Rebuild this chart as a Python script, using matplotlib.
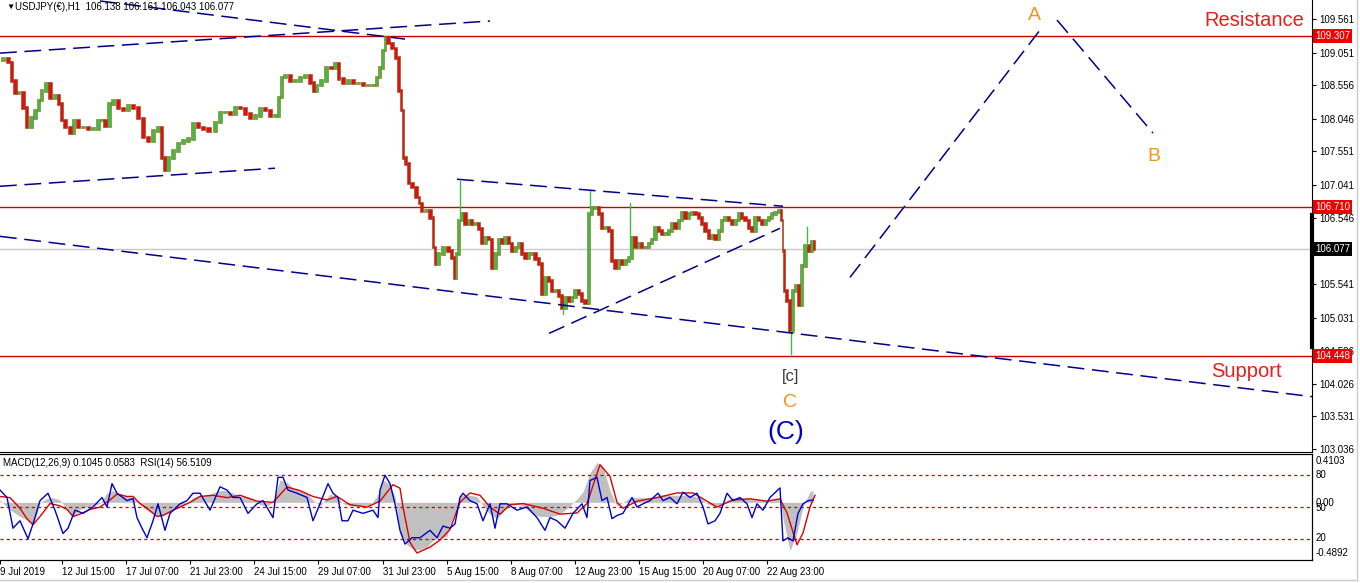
import numpy as np
import matplotlib.pyplot as plt
from matplotlib.transforms import blended_transform_factory
from matplotlib.lines import Line2D

plt.rcParams['font.family'] = ['Liberation Sans', 'DejaVu Sans']

# hourly bar index (1 bar = 1 hour of trading) and close prices
bars = [0, 5, 10, 13, 17, 20, 25, 28, 33, 37,
        40, 43, 48, 52, 57, 60, 63, 67, 72, 75,
        80, 85, 90, 95, 100, 103, 107, 111, 115, 120,
        125, 130, 135, 140, 145, 150, 155, 160, 163, 166,
        170, 175, 180, 185, 190, 195, 200, 205, 212, 217,
        222, 227, 232, 237, 242, 247, 252, 257, 262, 267,
        272, 277, 280, 283, 287, 292, 297, 302, 307, 312,
        315, 318, 323, 328, 333, 337, 340, 345, 350, 355,
        360, 365, 370, 375, 378, 381, 384, 386, 390, 394,
        397, 400, 402, 404, 407, 410, 414, 418, 420, 423,
        428, 432, 434, 436, 440, 445, 450, 453, 455, 457,
        460, 463, 467, 470, 473, 477, 480, 483, 487, 490,
        493, 497, 500, 503, 507, 510, 513, 517, 520, 523,
        527, 530, 533, 537, 540, 543, 547, 550, 553, 557,
        560, 563, 567, 570, 573, 577, 580, 583, 587, 590,
        593, 597, 600, 603, 607, 610, 613, 617, 620, 623,
        627, 630, 633, 637, 640, 643, 647, 650, 653, 657,
        660, 663, 667, 670, 673, 677, 680, 683, 687, 690,
        693, 697, 700, 703, 707, 710, 713, 717, 720, 723,
        727, 730, 733, 737, 740, 743, 747, 750, 753, 757,
        760, 763, 767, 770, 773, 777, 780, 782, 783, 785,
        788, 791, 794, 797, 800, 803, 807, 810, 813, 815]
closes = [108.94, 108.97, 108.91, 108.63, 108.44, 108.45, 108.22, 107.92, 108.07, 108.18,
          108.33, 108.48, 108.59, 108.36, 108.41, 108.28, 108.03, 107.92, 107.84, 108.03,
          107.92, 107.92, 107.90, 107.90, 108.03, 108.03, 107.95, 108.28, 108.33, 108.21,
          108.18, 108.25, 108.22, 108.06, 107.77, 107.72, 107.87, 107.92, 107.46, 107.27,
          107.46, 107.57, 107.68, 107.72, 107.75, 107.98, 107.92, 107.90, 107.87, 108.00,
          108.15, 108.15, 108.13, 108.22, 108.21, 108.13, 108.06, 108.10, 108.21, 108.18,
          108.10, 108.10, 108.38, 108.68, 108.71, 108.63, 108.63, 108.68, 108.71, 108.60,
          108.48, 108.56, 108.63, 108.83, 108.82, 108.89, 108.66, 108.59, 108.63, 108.59,
          108.59, 108.56, 108.56, 108.56, 108.68, 108.83, 109.09, 109.29, 109.20, 109.12,
          108.98, 108.48, 108.18, 107.46, 107.37, 107.07, 107.01, 106.86, 106.77, 106.66,
          106.66, 106.55, 106.10, 105.85, 106.00, 106.10, 106.05, 105.94, 105.64, 106.00,
          106.51, 106.61, 106.46, 106.51, 106.46, 106.46, 106.38, 106.16, 106.25, 106.22,
          105.79, 106.00, 106.22, 106.16, 106.25, 106.16, 106.05, 106.10, 106.16, 106.00,
          105.94, 106.00, 106.00, 105.93, 105.85, 105.40, 105.64, 105.59, 105.44, 105.44,
          105.37, 105.18, 105.34, 105.29, 105.34, 105.44, 105.40, 105.29, 105.25, 106.61,
          106.70, 106.70, 106.61, 106.40, 106.40, 106.35, 105.90, 105.79, 105.90, 105.85,
          105.90, 105.94, 106.25, 106.10, 106.16, 106.10, 106.10, 106.16, 106.22, 106.40,
          106.35, 106.31, 106.31, 106.35, 106.46, 106.40, 106.51, 106.63, 106.55, 106.61,
          106.63, 106.61, 106.55, 106.46, 106.35, 106.25, 106.28, 106.23, 106.35, 106.51,
          106.55, 106.51, 106.46, 106.51, 106.61, 106.55, 106.51, 106.40, 106.35, 106.55,
          106.51, 106.46, 106.51, 106.55, 106.61, 106.63, 106.66, 106.51, 106.05, 105.44,
          105.29, 104.83, 105.44, 105.52, 105.22, 105.82, 106.13, 106.05, 106.19, 106.08]

# long wicks (spikes)
wick_bar = [460, 563, 590, 630, 791, 807]
wick_tip = [107.11, 105.09, 106.96, 106.77, 104.48, 106.40]

# horizontal levels
resistance = 109.307
mid_level = 106.710
support = 104.448
last_price = 106.077

price_ticks = [109.561, 109.051, 108.556, 108.046, 107.551, 107.041, 106.546,
               105.541, 105.031, 104.526, 104.026, 103.531, 103.036]

# dashed trend lines: (bar, price) end points
trend_lines = [
    ((0, 109.044), (490, 109.531)),
    ((100, 109.835), (405, 109.257)),
    ((0, 107.023), (275, 107.297)),
    ((457, 107.13), (783, 106.72)),
    ((549, 104.79), (780, 106.385)),
    ((0, 106.263), (1312, 103.83)),
    ((850, 105.64), (1040, 109.394)),
    ((1057, 109.546), (1153, 107.83)),
]

# indicator window
rsi_x = [0, 7, 13, 20, 28, 33, 40, 48, 55, 63, 68, 75, 83, 93, 102, 107, 112, 117, 127, 133,
         137, 142, 147, 153, 158, 165, 170, 180, 187, 193, 200, 210, 220, 227, 233, 240, 248, 257, 263, 273,
         278, 283, 288, 297, 307, 313, 320, 328, 333, 338, 342, 348, 353, 363, 373, 378, 380, 385, 390, 395,
         400, 405, 412, 420, 430, 437, 443, 450, 455, 460, 463, 470, 477, 483, 490, 495, 500, 507,
         517, 527, 537, 545, 550, 557, 565, 573, 582, 587, 590, 597, 602, 607, 612, 617, 623, 632, 637, 643,
         650, 658, 663, 670, 677, 683, 690, 697, 703, 708, 715, 720, 727, 733, 740, 747, 752, 757, 763, 770,
         780, 783, 788, 793, 798, 803, 808, 813]
rsi_val = [66, 59, 30, 37, 20, 34, 56, 63, 47, 25, 30, 47, 44, 50, 59, 50, 72, 63, 56, 58,
           40, 30, 21, 37, 53, 28, 44, 53, 56, 63, 63, 47, 69, 66, 59, 59, 44, 53, 56, 40,
           78, 78, 66, 63, 59, 37, 53, 72, 63, 59, 37, 37, 47, 44, 47, 40, 66, 80, 72, 53,
           28, 15, 21, 21, 28, 21, 32, 30, 34, 59, 63, 56, 53, 37, 53, 30, 53, 53,
           47, 50, 40, 28, 40, 37, 30, 44, 53, 40, 75, 78, 56, 59, 39, 42, 44, 59, 50, 53,
           56, 63, 56, 59, 53, 64, 59, 63, 50, 34, 37, 44, 63, 56, 59, 53, 40, 53, 47, 59,
           68, 18, 21, 18, 44, 53, 56, 56.5]

macd_x = [0, 7, 13, 20, 27, 33, 37, 40, 47, 53, 60, 67, 73, 80, 87, 93, 100, 107, 113, 120,
          127, 133, 140, 147, 153, 160, 167, 173, 180, 187, 193, 200, 207, 213, 220, 227, 233, 240, 247, 253,
          260, 267, 273, 280, 287, 293, 300, 307, 313, 320, 327, 330, 337, 343, 350, 357, 363, 370, 377, 383,
          390, 395, 400, 407, 413, 420, 427, 433, 440, 447, 450, 457, 460, 470, 477, 483, 490, 497, 503, 510,
          520, 527, 533, 540, 550, 557, 563, 570, 577, 583, 590, 597, 603, 610, 617, 623, 630, 640, 650, 660,
          670, 680, 690, 700, 707, 713, 720, 727, 733, 740, 750, 760, 770, 780, 783, 790, 797, 803, 810, 813]
macd_val = [0.02, -0.04, -0.08, -0.12, -0.15, -0.19, -0.10, 0.0, 0.03, 0.04,
            0.02, -0.06, -0.12, -0.06, -0.04, -0.03, -0.01, 0.08, 0.10, 0.07,
            0.05, 0.04, -0.02, -0.07, -0.09, -0.12, -0.10, -0.05, -0.03, -0.01,
            0.04, 0.06, 0.06, 0.08, 0.10, 0.10, 0.08, 0.05, 0.05, 0.03,
            -0.02, -0.03, 0.0, 0.19, 0.17, 0.12, 0.10, 0.08, 0.02, -0.03,
            0.04, 0.07, 0.05, -0.01, -0.03, -0.03, -0.03, -0.02, 0.05, 0.19,
            0.15, 0.05, -0.26, -0.36, -0.40, -0.40, -0.38, -0.32, -0.30, -0.29,
            -0.18, -0.05, 0.06, 0.06, 0.05, -0.03, -0.10, -0.14, -0.08, -0.02,
            -0.02, -0.06, -0.10, -0.12, -0.12, -0.11, -0.08, -0.03, 0.03, 0.09,
            0.25, 0.34, 0.30, 0.10, -0.03, 0.0, 0.04, 0.04, 0.04, 0.06,
            0.06, 0.06, 0.06, 0.04, -0.01, -0.03, -0.02, 0.02, 0.04, 0.04,
            0.03, 0.02, 0.02, 0.03, -0.14, -0.41, -0.26, -0.04, 0.09, 0.10]

sig_x = [0, 10, 20, 27, 33, 40, 50, 60, 67, 73, 80, 90, 100, 110, 117, 127, 133, 140, 147, 157,
         163, 170, 180, 190, 200, 213, 227, 240, 257, 273, 287, 300, 313, 327, 337, 350, 367, 380, 393, 400,
         403, 410, 417, 430, 440, 450, 460, 470, 480, 490, 500, 510, 523, 543, 560, 577, 587, 600, 610, 617,
         623, 637, 657, 677, 693, 707, 717, 733, 750, 767, 780, 787, 797, 803, 810, 815]
sig_val = [0.05, 0.04, -0.05, -0.14, -0.19, -0.12, -0.01, -0.03, -0.06, -0.12,
           -0.10, -0.06, -0.04, 0.02, 0.07, 0.05, 0.05, -0.01, -0.05, -0.12,
           -0.11, -0.08, -0.04, 0.0, 0.05, 0.06, 0.04, 0.06, 0.01, 0.0,
           0.13, 0.10, 0.05, 0.02, 0.05, -0.02, -0.04, 0.01, 0.15, 0.12,
           -0.04, -0.34, -0.43, -0.38, -0.32, -0.23, 0.0, 0.08, 0.06, -0.04,
           -0.10, -0.02, -0.01, -0.05, -0.10, -0.09, -0.01, 0.32, 0.22, 0.0,
           -0.05, 0.01, 0.04, 0.08, 0.08, 0.01, -0.04, 0.02, 0.03, 0.01,
           0.03, -0.09, -0.36, -0.26, -0.04, 0.06]

date_ticks = [0, 62, 126, 190, 254, 318, 383, 447, 511, 575, 639, 703, 767]
date_labels = ['9 Jul 2019', '12 Jul 15:00', '17 Jul 07:00', '21 Jul 23:00', '24 Jul 15:00',
               '29 Jul 07:00', '31 Jul 23:00', '5 Aug 15:00', '8 Aug 07:00', '12 Aug 23:00',
               '15 Aug 15:00', '20 Aug 07:00', '22 Aug 23:00']

W, H = 1360, 583
fig = plt.figure(figsize=(13.6, 5.83), dpi=100)
ax = fig.add_axes([0, 1 - 452 / H, 1312 / W, 452 / H])
sub = fig.add_axes([0, 1 - 560 / H, 1312 / W, 106 / H])

RED = '#cc0000'
NAVY = '#00008b'
ORANGE = '#f39320'

# --- price window ---
ax.set_xlim(0, 1312)
ax.set_ylim(102.99, 109.85)

ax.axhline(last_price, color='#c8c8c8', lw=1, zorder=1)
for lvl in [resistance, mid_level, support]:
    ax.axhline(lvl, color=RED, lw=1, zorder=1)

bars = np.array(bars)
closes = np.array(closes)
opens = closes[:-1]
cl = closes[1:]
xs = (bars[:-1] + bars[1:]) / 2
wd = (bars[1:] - bars[:-1]) * 0.8
up = cl >= opens
bottom = np.minimum(opens, cl) - 0.02
height = np.abs(cl - opens) + 0.04
ax.bar(xs[up], height[up], bottom=bottom[up], width=wd[up], color='#44b944',
       edgecolor='#8a6a18', linewidth=0.4, zorder=2)
ax.bar(xs[~up], height[~up], bottom=bottom[~up], width=wd[~up], color='#dd1111',
       edgecolor='#8a4a10', linewidth=0.4, zorder=2)

for b, tip in zip(wick_bar, wick_tip):
    base = closes[list(bars).index(b)]
    ax.plot([b, b], [base, tip], color='#44b944', lw=1, zorder=2)

for (x0, y0), (x1, y1) in trend_lines:
    ax.plot([x0, x1], [y0, y1], color=NAVY, lw=1.1, dashes=(11, 5), zorder=3)

ax.spines['left'].set_visible(False)
ax.spines['top'].set_visible(False)
ax.spines['right'].set_color('black')
ax.spines['bottom'].set_color('black')
ax.set_xticks([])
ax.yaxis.tick_right()
ax.set_yticks(price_ticks)
ax.set_yticklabels(['%.3f' % t for t in price_ticks])
ax.tick_params(axis='y', labelsize=7, length=3, pad=2, colors='black')

# thick bar on price scale
ax.plot([1312, 1312], [106.58, 104.58], color='black', lw=3, clip_on=False, zorder=5)

tr = blended_transform_factory(ax.transAxes, ax.transData)
for val, fc in [(resistance, '#ee0000'), (mid_level, '#ee0000'), (support, '#ee0000'), (last_price, 'black')]:
    ax.text(1.0025, val, '%.3f' % val, transform=tr, ha='left', va='center', fontsize=7,
            color='white', clip_on=False, zorder=6,
            bbox=dict(boxstyle='square,pad=0.2', fc=fc, ec='none'))

# wave labels
ax.text(1034, 109.61, 'A', color=ORANGE, fontsize=14, ha='center', va='center')
ax.text(1154, 107.48, 'B', color=ORANGE, fontsize=14, ha='center', va='center')
ax.text(791, 104.135, '[c]', color='#3a3a3a', fontsize=12, ha='center', va='center')
ax.text(790, 103.74, 'C', color=ORANGE, fontsize=14, ha='center', va='center')
ax.text(786, 103.30, '(C)', color='#0000cc', fontsize=19, ha='center', va='center')
ax.text(1254, 109.546, 'Resistance', color='#e3201b', fontsize=14.5, ha='center', va='center')
ax.text(1246, 104.21, 'Support', color='#e3201b', fontsize=14.5, ha='center', va='center')

fig.text(6 / W, 1 - 7 / H, '\u25bc', fontsize=6, va='center', ha='left')
fig.text(15 / W, 1 - 7 / H, 'USDJPY(\u20ac),H1  106.138 106.161 106.043 106.077',
         fontsize=7, va='center', ha='left')

# --- indicator window ---
sub.set_xlim(0, 1312)
sub.set_ylim(-0.4892, 0.4103)
sub.fill_between(macd_x, 0, macd_val, color='#c0c0c0', lw=0, zorder=1)
sub.plot(sig_x, sig_val, color='#dd0000', lw=1, zorder=3)

rsi_ax = sub.twinx()
rsi_ax.set_ylim(0, 100)
for lv in [80, 50, 20]:
    rsi_ax.axhline(lv, color='#cc0000', lw=0.9, dashes=(2.5, 2.5), zorder=1)
rsi_ax.plot(rsi_x, rsi_val, color='#0000cc', lw=1, zorder=4)
rsi_ax.set_yticks([])

for a in [sub, rsi_ax]:
    a.spines['left'].set_visible(False)
    a.spines['top'].set_color('black')
    a.spines['bottom'].set_color('black')
sub.set_yticks([])
sub.set_xticks(date_ticks)
sub.set_xticklabels(date_labels, ha='left')
sub.tick_params(axis='x', labelsize=7, length=3, pad=2)

sub_tr = blended_transform_factory(sub.transAxes, fig.transFigure)
for txt, ypx in [('0.4103', 461), ('80', 475), ('0.00', 503), ('50', 508), ('20', 538), ('-0.4892', 553)]:
    sub.text(1.003, 1 - ypx / H, txt, transform=sub_tr, fontsize=7, ha='left', va='center', clip_on=False)

fig.text(3 / W, 1 - 463 / H, 'MACD(12,26,9) 0.1045 0.0583  RSI(14) 56.5109', fontsize=7,
         ha='left', va='center')

# outer window frame
fig.add_artist(Line2D([1357 / W, 1357 / W], [1 - 580 / H, 1], color='#cccccc', lw=1))
fig.add_artist(Line2D([0, 1357 / W], [1 - 580 / H, 1 - 580 / H], color='#cccccc', lw=1))

fig.savefig('out.png', dpi=100)
